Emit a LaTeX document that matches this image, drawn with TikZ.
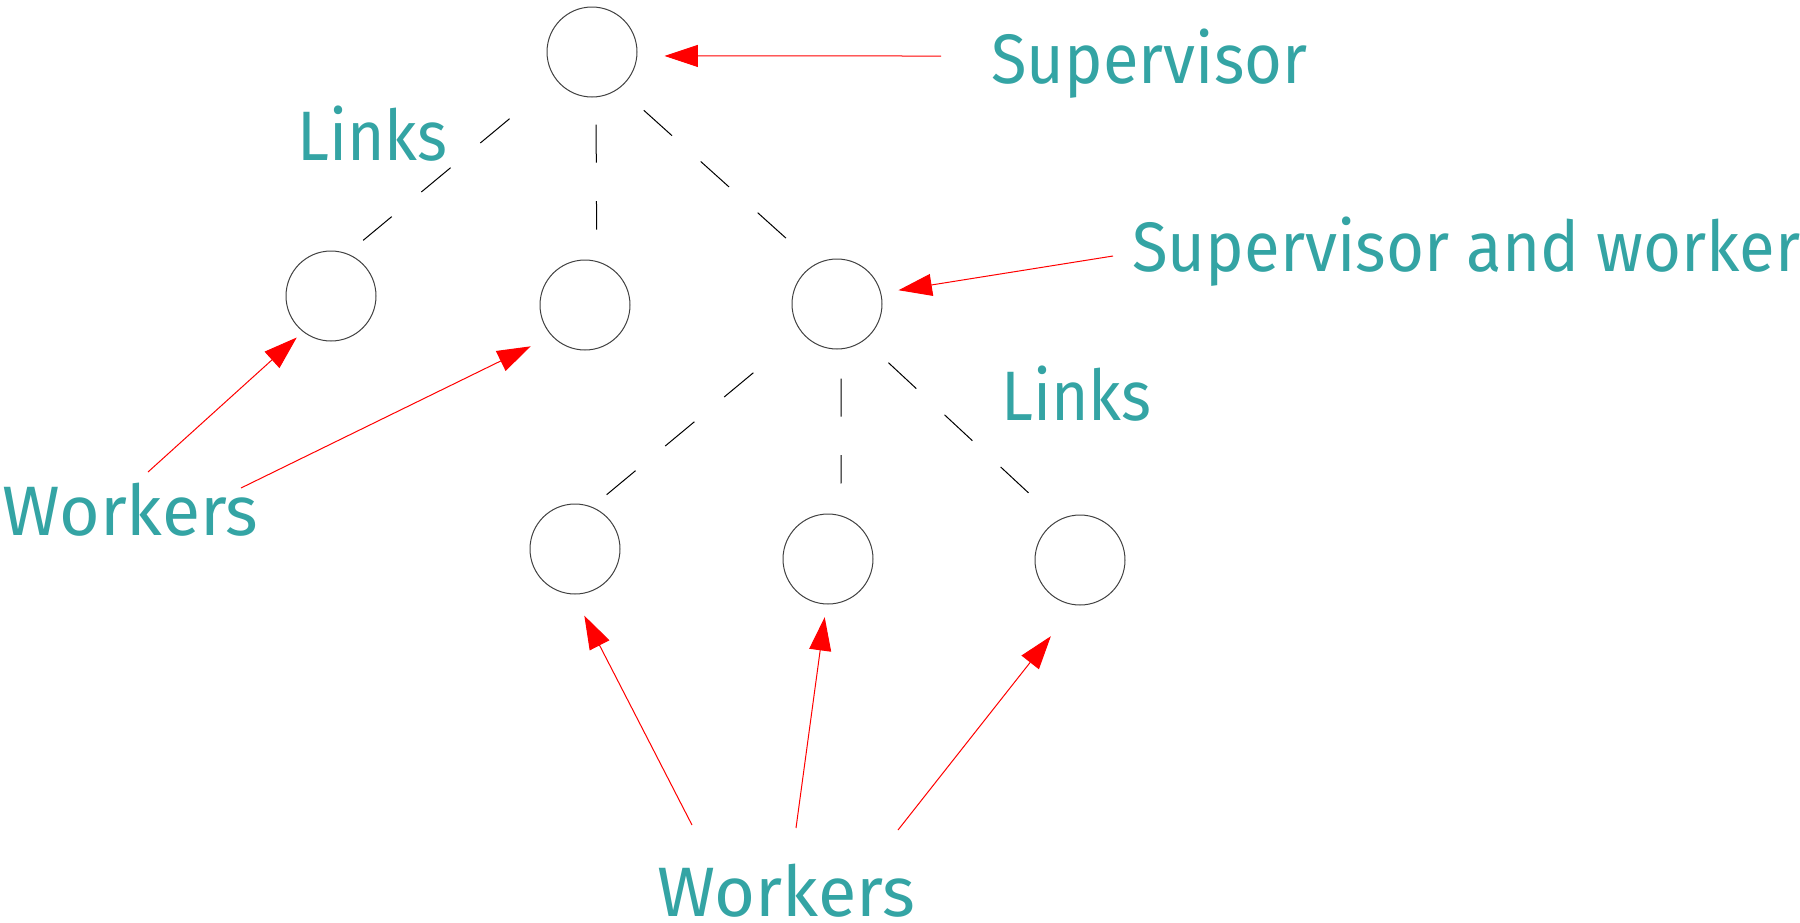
\documentclass[tikz,border=0pt]{standalone}
\usepackage{fontspec}
\setmainfont{Fira Sans}
\usetikzlibrary{arrows.meta}
\definecolor{labelteal}{RGB}{52,164,164}
\definecolor{ptrred}{RGB}{255,0,0}
% set a label to a given width, keeping its natural height
\newcommand{\fitlabel}[2]{\resizebox{#1}{\height}{#2}}
\begin{document}
\begin{tikzpicture}[x=0.5pt,y=-0.5pt,
  member/.style={circle, draw=black!75, line width=0.5pt, minimum size=45pt, inner sep=0pt},
  link/.style={draw=black, line width=0.5pt, dash pattern=on 19pt off 19.3pt},
  ptr/.style={draw=ptrred, line width=0.5pt, -{Triangle[length=16.7pt,width=11pt]}},
  lbl/.style={text=labelteal, font=\fontsize{35pt}{40pt}\selectfont, inner sep=0pt, anchor=base west}
]
\useasboundingbox (0,0) rectangle (1800,922);

% hierarchy members
\node[member] (top) at (592,52) {};
\node[member] (ml) at (331,296) {};
\node[member] (mm) at (585,305) {};
\node[member] (mr) at (837,304) {};
\node[member] (bl) at (575,549) {};
\node[member] (bm) at (828,559) {};
\node[member] (br) at (1080,560) {};

% dashed links
\draw[link, shorten <=30.3pt, shorten >=10.3pt] (top.218.8) -- (ml.69.3);
\draw[link, shorten <=13.6pt, shorten >=15.7pt] (top.-85) -- (mm.75.9);
\draw[link, shorten <=16.4pt, shorten >=19.4pt] (top.-53.5) -- (mr.119.8);
\draw[link, shorten <=31.4pt, shorten >=9.5pt] (mr.219.1) -- (bl.68.8);
\draw[link, shorten <=14.6pt, shorten >=16pt] (mr.-85) -- (bm.73.2);
\draw[link, shorten <=16.4pt, shorten >=19.4pt] (mr.-53.5) -- (br.119.8);

% labels
\node[lbl] (supL) at (991,83) {\fitlabel{158pt}{Supervisor}};
\node[lbl] (linksA) at (297,160) {\fitlabel{75pt}{Links}};
\node[lbl] (swL) at (1132,271) {\fitlabel{334pt}{Supervisor and worker}};
\node[lbl] (linksB) at (1001,420) {\fitlabel{75pt}{Links}};
\node[lbl] (workA) at (2,535) {\fitlabel{128pt}{Workers}};
\node[lbl] (workB) at (657,916) {\fitlabel{129pt}{Workers}};

% pointer tails
\coordinate (tSup) at (941,56);
\coordinate (tSw) at (1113,256);
\coordinate (tWa1) at (148,472);
\coordinate (tWa2) at (241,488);
\coordinate (tWb1) at (692,825);
\coordinate (tWb2) at (796,828);
\coordinate (tWb3) at (898,830);

% pointers
\draw[ptr, shorten >=13.6pt] (tSup) -- (top.-5.1);
\draw[ptr, shorten >=8.8pt] (tSw) -- (mr.14.5);
\draw[ptr, shorten >=4.2pt] (tWa1) -- (ml.-128.1);
\draw[ptr, shorten >=11.7pt] (tWa2) -- (mm.-137.1);
\draw[ptr, shorten >=11.9pt] (tWb1) -- (bl.-92.3);
\draw[ptr, shorten >=6.4pt] (tWb2) -- (bm.-92.2);
\draw[ptr, shorten >=19.7pt] (tWb3) -- (br.-96.8);
\end{tikzpicture}
\end{document}
